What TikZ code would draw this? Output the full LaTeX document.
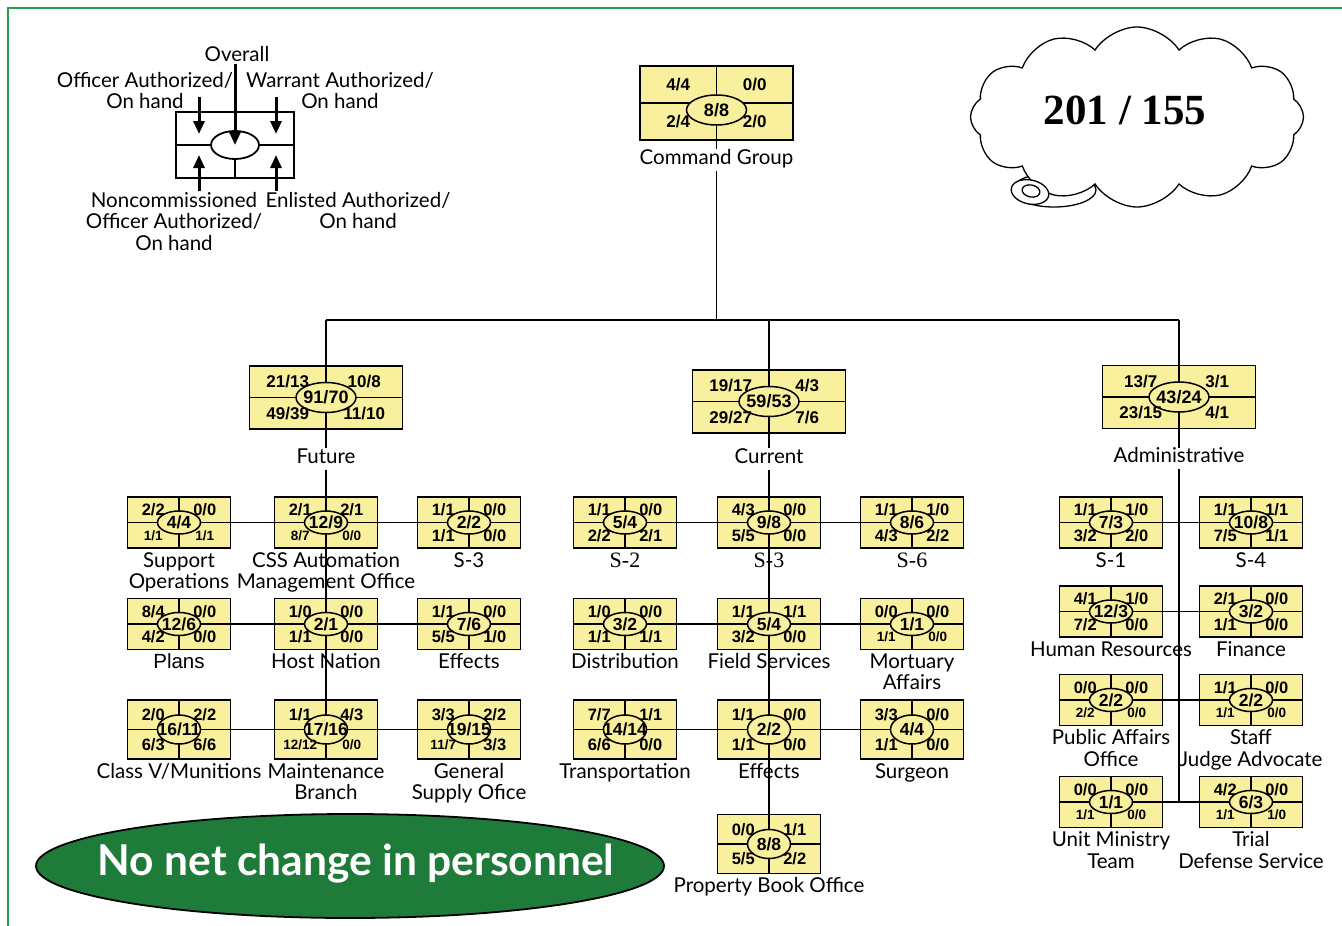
\documentclass[tikz,border=0pt]{standalone}
\usepackage{fontspec}
\setmainfont{Lato}
\newfontfamily\numfam{Liberation Sans}
\newfontfamily\serfam{Liberation Serif}
\usetikzlibrary{shapes.geometric,shapes.symbols,calc,arrows.meta}
\definecolor{boxyellow}{HTML}{F9F09E}
\definecolor{noteGreen}{HTML}{1E7B3A}
\definecolor{frameGreen}{HTML}{2E9A4A}
\newcommand\fQn{\numfam\bfseries\fontsize{16.5}{18}\selectfont}
\newcommand\fQb{\numfam\bfseries\fontsize{17.5}{19}\selectfont}
\newcommand\fPn{\numfam\bfseries\fontsize{17}{19}\selectfont}
\newcommand\fPb{\numfam\bfseries\fontsize{18}{20}\selectfont}
\newcommand\fQs{\fontsize{13.5}{15}\selectfont}
\newcommand\fLab{\fontsize{20.5}{21.5}\selectfont}
\newcommand\fSer{\serfam\fontsize{22}{21.5}\selectfont}
\pgfdeclarelayer{bg}
\pgfsetlayers{bg,main}
\tikzset{
  conn/.style={line width=1.8pt},
  ubox/.style={draw, line width=1.8pt, fill=boxyellow, inner sep=0pt, outer sep=0pt, minimum width=103pt, minimum height=51pt},
  uell/.style={ellipse, draw, line width=1.5pt, fill=boxyellow, inner sep=0pt, minimum width=43pt, minimum height=23pt},
  lab/.style={anchor=north, inner sep=0pt, align=center, font=\fLab, execute at begin node={\strut}},
  child/.style={ubox},
  childnum/.style={font=\fQn, inner sep=0pt},
  childell/.style={uell},
  childbig/.style={font=\fQb, inner sep=0pt},
  childlab/.style={lab, yshift=-4pt},
  tall/.style={ubox, minimum height=59pt},
  tallnum/.style={childnum},
  tallell/.style={uell, minimum height=29pt},
  tallbig/.style={childbig},
  talllab/.style={childlab},
  parent/.style={ubox, minimum width=153pt, minimum height=63pt},
  parentnum/.style={font=\fPn, inner sep=0pt},
  parentell/.style={uell, minimum width=60pt, minimum height=30pt},
  parentbig/.style={font=\fPb, inner sep=0pt},
  parentlab/.style={lab, fill=white, inner xsep=3pt, yshift=-19pt},
  parentb/.style={parent},
  parentbnum/.style={parentnum},
  parentbell/.style={parentell},
  parentbbig/.style={parentbig},
  parentblab/.style={lab, fill=white, inner xsep=3pt, yshift=-15pt},
  cmd/.style={parent, minimum height=74pt},
  cmdnum/.style={parentnum},
  cmdell/.style={parentell, yshift=-7pt},
  cmdbig/.style={parentbig},
  cmdlab/.style={lab, fill=white, inner xsep=3pt, yshift=-9pt},
  legtext/.style={lab},
  arr/.style={line width=3pt, -{Triangle[length=13pt,width=11pt]}},
}
\newcommand\orgunit[9]{%
  \node[#3] (#1) at (#2) {};
  \draw[conn] (#1.north) -- (#1.south) (#1.west) -- (#1.east);
  \node[#3ell] (#1e) at (#1.center) {};
  \node[#3num] (#1tl) at ($(#1.center)!0.5!(#1.north west)$) {#4};
  \node[#3num] (#1tr) at ($(#1.center)!0.5!(#1.north east)$) {#5};
  \node[#3num] (#1bl) at ($(#1.center)!0.5!(#1.south west)$) {#6};
  \node[#3num] (#1br) at ($(#1.center)!0.5!(#1.south east)$) {#7};
  \node[#3big] (#1n) at (#1e.center) {#8};
  \node[#3lab] (#1l) at (#1.south) {#9};
}
\begin{document}
\begin{tikzpicture}[x=1pt,y=-1pt]
\useasboundingbox (0,0) rectangle (1342,926);
% frame
\draw[frameGreen, line width=2pt] (8,926) -- (8,8) -- (1342,8);

% legend
\node[draw, line width=1.8pt, minimum width=118pt, minimum height=66pt, inner sep=0pt] (lgd) at (235,145) {};
\node[ellipse, draw, line width=1.8pt, minimum width=48pt, minimum height=28pt, inner sep=0pt, fill=white] (lgde) at (235,145) {};
\draw[conn] (lgd.west) -- (lgde.west) (lgde.east) -- (lgd.east) (lgde.south) -- (lgd.south);
\node[legtext] (tOv) at (237,46) {Overall};
\node[legtext] (tOf) at (145,72) {Officer Authorized/\\On hand};
\node[legtext] (tWa) at (340,72) {Warrant Authorized/\\On hand};
\node[legtext] (tNc) at (174,192) {Noncommissioned\\Officer Authorized/\\On hand};
\node[legtext] (tEn) at (358,192) {Enlisted Authorized/\\On hand};
\coordinate (aOv) at (235,64);
\coordinate (aOf1) at (199,97); \coordinate (aOf2) at (199,134);
\coordinate (aWa1) at (276,97); \coordinate (aWa2) at (276,134);
\coordinate (aNc1) at (199,191); \coordinate (aNc2) at (199,155);
\coordinate (aEn1) at (276,191); \coordinate (aEn2) at (276,155);
\draw[arr] (aOv) -- (lgde.center);
\draw[arr] (aOf1) -- (aOf2);
\draw[arr] (aWa1) -- (aWa2);
\draw[arr] (aNc1) -- (aNc2);
\draw[arr] (aEn1) -- (aEn2);

% cloud
\node[ellipse, draw, line width=1.3pt, fill=white, minimum width=84pt, minimum height=34pt] (tail0) at (1054,190) {};
\node[cloud, cloud puffs=12, cloud puff arc=115, aspect=1.8, draw, line width=1.3pt, fill=white, minimum width=333pt, minimum height=180pt, inner sep=0pt] (cloud) at (1137,117) {};
\node[ellipse, draw, line width=1.3pt, fill=white, minimum width=38pt, minimum height=24pt, rotate=-12] (tail1) at (1030,192) {};
\node[ellipse, draw, line width=1.3pt, minimum width=18pt, minimum height=12pt, rotate=-12] (tail2) at (1031,191) {};
\node[font=\serfam\bfseries\fontsize{43}{46}\selectfont] (total) at (1125,110) {201 / 155};

% top level
\orgunit{cmd}{716.5,103}{cmd}{4/4}{0/0}{2/4}{2/0}{8/8}{Command Group}
\orgunit{fut}{326,397.5}{parent}{21/13}{10/8}{49/39}{11/10}{91/70}{Future}
\orgunit{cur}{769,401.5}{parentb}{19/17}{4/3}{29/27}{7/6}{59/53}{Current}
\orgunit{adm}{1179,397}{parent}{13/7}{3/1}{23/15}{4/1}{43/24}{Administrative}

% future column
\orgunit{fsup}{179,522.5}{child}{2/2}{0/0}{{\fQs 1/1}}{{\fQs 1/1}}{4/4}{Support\\Operations}
\orgunit{fcss}{326,522.5}{child}{2/1}{2/1}{{\fQs 8/7}}{{\fQs 0/0}}{12/9}{CSS Automation\\Management Office}
\orgunit{fs3}{469,522.5}{child}{1/1}{0/0}{1/1}{0/0}{2/2}{S-3}
\orgunit{fpln}{179,624}{child}{8/4}{0/0}{4/2}{0/0}{12/6}{{\numfam Plans}}
\orgunit{fhn}{326,624}{child}{1/0}{0/0}{1/1}{0/0}{2/1}{Host Nation}
\orgunit{feff}{469,624}{child}{1/1}{0/0}{5/5}{1/0}{7/6}{Effects}
\orgunit{fcv}{179,729.5}{tall}{2/0}{2/2}{6/3}{6/6}{16/11}{Class V/Munitions}
\orgunit{fmnt}{326,729.5}{tall}{1/1}{4/3}{{\fQs 12/12}}{{\fQs 0/0}}{17/16}{Maintenance\\Branch}
\orgunit{fgso}{469,729.5}{tall}{3/3}{2/2}{{\fQs 11/7}}{3/3}{19/15}{General\\Supply Ofice}

% current column
\orgunit{cs2}{625,522.5}{child}{1/1}{0/0}{2/2}{2/1}{5/4}{{\fSer S-2}}
\orgunit{cs3}{769,522.5}{child}{4/3}{0/0}{5/5}{0/0}{9/8}{{\fSer S-3}}
\orgunit{cs6}{912,522.5}{child}{1/1}{1/0}{4/3}{2/2}{8/6}{{\fSer S-6}}
\orgunit{cdst}{625,624}{child}{1/0}{0/0}{1/1}{1/1}{3/2}{Distribution}
\orgunit{cfs}{769,624}{child}{1/1}{1/1}{3/2}{0/0}{5/4}{Field Services}
\orgunit{cmrt}{912,624}{child}{0/0}{0/0}{{\fQs 1/1}}{{\fQs 0/0}}{1/1}{Mortuary\\Affairs}
\orgunit{ctrn}{625,729.5}{tall}{7/7}{1/1}{6/6}{0/0}{14/14}{Transportation}
\orgunit{ceff}{769,729.5}{tall}{1/1}{0/0}{1/1}{0/0}{2/2}{Effects}
\orgunit{csrg}{912,729.5}{tall}{3/3}{0/0}{1/1}{0/0}{4/4}{Surgeon}
\orgunit{cpbo}{769,844}{tall}{0/0}{1/1}{5/5}{2/2}{8/8}{Property Book Office}

% administrative column
\orgunit{as1}{1111,522.5}{child}{1/1}{1/0}{3/2}{2/0}{7/3}{S-1}
\orgunit{as4}{1251,522.5}{child}{1/1}{1/1}{7/5}{1/1}{10/8}{S-4}
\orgunit{ahr}{1111,611.5}{child}{4/1}{1/0}{7/2}{0/0}{12/3}{Human Resources}
\orgunit{afin}{1251,611.5}{child}{2/1}{0/0}{1/1}{0/0}{3/2}{Finance}
\orgunit{apao}{1111,700}{child}{0/0}{0/0}{{\fQs 2/2}}{{\fQs 0/0}}{2/2}{Public Affairs\\Office}
\orgunit{asja}{1251,700}{child}{1/1}{0/0}{{\fQs 1/1}}{{\fQs 0/0}}{2/2}{Staff\\Judge Advocate}
\orgunit{aumt}{1111,802}{child}{0/0}{0/0}{{\fQs 1/1}}{{\fQs 0/0}}{1/1}{Unit Ministry\\Team}
\orgunit{atds}{1251,802}{child}{4/2}{0/0}{{\fQs 1/1}}{{\fQs 1/0}}{6/3}{Trial\\Defense Service}

% note
\node[ellipse, draw, line width=1.8pt, fill=noteGreen, minimum width=628pt, minimum height=104pt, inner sep=0pt] (note) at (350,866) {};
\node[text=white, font=\bfseries\fontsize{42.5}{48}\selectfont] (notet) at (356,864) {No net change in personnel};

% connectors
\begin{pgfonlayer}{bg}
\coordinate (busC) at (716.5,320);
\draw[conn] (cmd) -- (busC);
\draw[conn] (fut |- busC) -- (adm |- busC);
\draw[conn] (fut |- busC) -- (fut);
\draw[conn] (cur |- busC) -- (cur);
\draw[conn] (adm |- busC) -- (adm);
\draw[conn] (fut) -- (fmnt);
\draw[conn] (fsup) -- (fs3);
\draw[conn] (fpln) -- (feff);
\draw[conn] (fcv) -- (fgso);
\draw[conn] (cur) -- (cpbo);
\draw[conn] (cs2) -- (cs6);
\draw[conn] (cdst) -- (cmrt);
\draw[conn] (ctrn) -- (csrg);
\draw[conn] (adm) -- (adm |- atds);
\draw[conn] (as1) -- (as4);
\draw[conn] (ahr) -- (afin);
\draw[conn] (apao) -- (asja);
\draw[conn] (aumt) -- (atds);
\end{pgfonlayer}
\end{tikzpicture}
\end{document}
